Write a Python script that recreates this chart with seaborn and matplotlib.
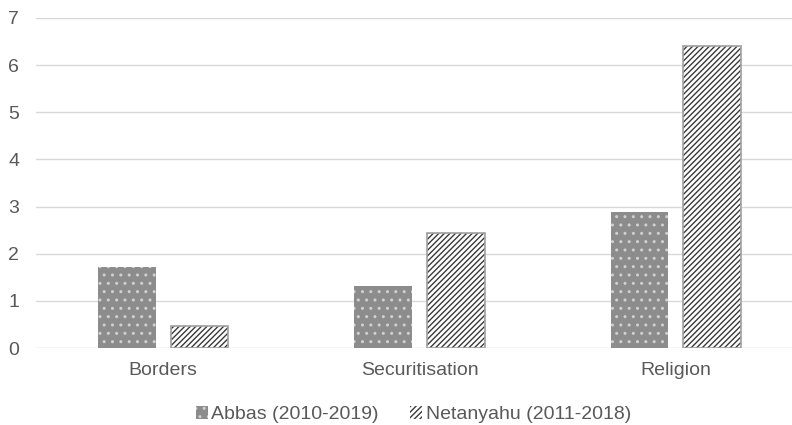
import pandas as pd
import seaborn as sns
import matplotlib.pyplot as plt
from matplotlib.patches import Patch, Rectangle

categories = ['Borders', 'Securitisation', 'Religion']
abbas = [1.72, 1.32, 2.89]
netanyahu = [0.47, 2.44, 6.41]
series = ['Abbas (2010-2019)', 'Netanyahu (2011-2018)']

df = pd.DataFrame({
    'category': categories * 2,
    'value': abbas + netanyahu,
    'series': [series[0]] * 3 + [series[1]] * 3,
})

sns.set_style('white')
plt.rcParams['font.family'] = ['Liberation Sans', 'DejaVu Sans']
plt.rcParams['hatch.linewidth'] = 1.0

fig = plt.figure(figsize=(7.92, 4.25), dpi=100)
ax = fig.add_axes([0.0455, 0.181, 0.9545, 0.777])

sns.barplot(data=df, x='category', y='value', hue='series', ax=ax,
            width=0.566, gap=0.205, palette=['#8c8c8c', 'white'], legend=False)

# grey bars with small light dots, white bars with dark diagonal lines + grey frame
for i, bar in enumerate(list(ax.patches)):
    if i < 3:
        bar.set_facecolor('#8c8c8c')
        bar.set_edgecolor('#d0d0d0')
        bar.set_linewidth(0)
        bar.set_hatch('..')
    else:
        bar.set_facecolor('white')
        bar.set_edgecolor('#3a3a3a')
        bar.set_linewidth(0)
        bar.set_hatch('//////')
        ax.add_patch(Rectangle(bar.get_xy(), bar.get_width(), bar.get_height(),
                               fill=False, edgecolor='#a0a0a0', linewidth=1.2, zorder=bar.get_zorder() + 0.1))

ax.set_xlim(-0.496, 2.453)
ax.set_ylim(0, 7)
ax.set_yticks(range(0, 8))
ax.yaxis.grid(True, color='#d9d9d9', linewidth=1)
ax.set_axisbelow(True)
for s in ax.spines.values():
    s.set_visible(False)
ax.tick_params(axis='both', length=0, labelsize=14, labelcolor='#595959')
ax.tick_params(axis='x', pad=10)
ax.tick_params(axis='y', pad=12)
ax.set_xlabel('')
ax.set_ylabel('')

handles = [Patch(facecolor='#8c8c8c', edgecolor='#d0d0d0', linewidth=0, hatch='..'),
           Patch(facecolor='white', edgecolor='#3a3a3a', linewidth=0, hatch='//////')]
leg = fig.legend(handles, series, loc='center', bbox_to_anchor=(0.522, 0.024), ncol=2,
                 frameon=False, fontsize=14, handlelength=0.6, handleheight=0.6,
                 handletextpad=0.2, columnspacing=1.6)
for t in leg.get_texts():
    t.set_color('#595959')

fig.savefig('out.png', dpi=100)
